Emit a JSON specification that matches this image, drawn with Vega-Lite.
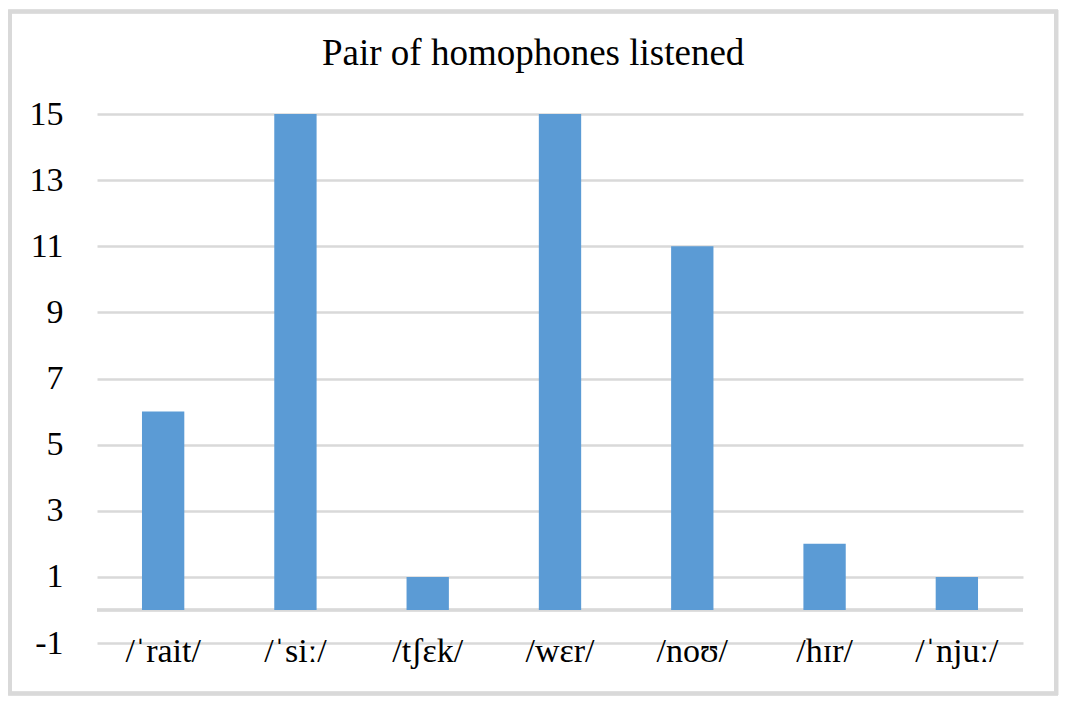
{
  "$schema": "https://vega.github.io/schema/vega-lite/v6.json",
  "width": 926,
  "height": 529,
  "autosize": {"type": "none"},
  "padding": {"left": 97, "top": 114, "right": 52, "bottom": 62},
  "background": "white",
  "title": {
    "text": "Pair of homophones listened",
    "font": "'Liberation Serif', 'Times New Roman', serif",
    "fontSize": 37,
    "fontWeight": "normal",
    "color": "#000000",
    "anchor": "middle",
    "frame": "bounds",
    "baseline": "alphabetic",
    "offset": -92
  },
  "data": {
    "values": [
      {"word": "/ˈrait/", "count": 6},
      {"word": "/ˈsiː/", "count": 15},
      {"word": "/tʃɛk/", "count": 1},
      {"word": "/wɛr/", "count": 15},
      {"word": "/noʊ/", "count": 11},
      {"word": "/hɪr/", "count": 2},
      {"word": "/ˈnjuː/", "count": 1}
    ]
  },
  "config": {
    "view": {"stroke": null},
    "font": "'Liberation Serif', 'Times New Roman', serif"
  },
  "resolve": {"scale": {"x": "independent"}, "axis": {"x": "independent"}},
  "layer": [
    {
      "mark": {"type": "rect", "fill": null, "stroke": "#d9d9d9", "strokeWidth": 3.5, "clip": false},
      "encoding": {
        "x": {"datum": -0.094, "type": "quantitative", "scale": {"domain": [0, 1], "nice": false, "zero": false}, "axis": null},
        "x2": {"datum": 1.036},
        "y": {"datum": 18.1, "type": "quantitative", "scale": {"domain": [-1, 15], "nice": false, "zero": false}},
        "y2": {"datum": -2.53}
      }
    },
    {
      "mark": {"type": "rule", "stroke": "#d9d9d9", "strokeWidth": 2.5},
      "encoding": {
        "y": {"datum": 0, "type": "quantitative", "scale": {"domain": [-1, 15], "nice": false, "zero": false}}
      }
    },
    {
      "mark": {"type": "bar", "color": "#5b9bd5"},
      "encoding": {
        "x": {
          "field": "word",
          "type": "nominal",
          "sort": null,
          "scale": {"paddingInner": 0.68, "paddingOuter": 0.34},
          "axis": {
            "title": null,
            "domain": false,
            "ticks": false,
            "labelAngle": 0,
            "labelFont": "'Liberation Serif', 'DejaVu Serif', serif",
            "labelFontSize": 34,
            "labelColor": "#000000",
            "labelBaseline": "alphabetic",
            "labelPadding": 18,
            "grid": false
          }
        },
        "y": {
          "field": "count",
          "type": "quantitative",
          "scale": {"domain": [-1, 15], "nice": false, "zero": false},
          "axis": {
            "title": null,
            "values": [-1, 1, 3, 5, 7, 9, 11, 13, 15],
            "labelExpr": "datum.value + ''",
            "domain": false,
            "ticks": false,
            "grid": true,
            "gridColor": "#d9d9d9",
            "gridWidth": 2.5,
            "gridOpacity": 1,
            "labelFont": "'Liberation Serif', 'Times New Roman', serif",
            "labelFontSize": 34,
            "labelColor": "#000000",
            "labelPadding": 34
          }
        },
        "y2": {"datum": 0}
      }
    }
  ]
}
